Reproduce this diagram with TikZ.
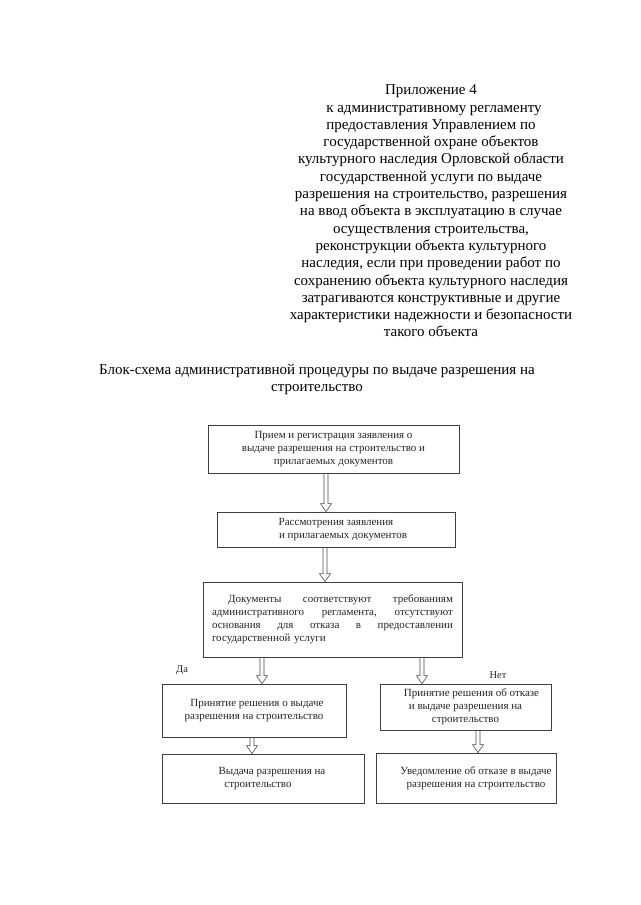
\documentclass[tikz,border=0pt]{standalone}
\usepackage{fontspec}
\setmainfont{Liberation Serif}
\usetikzlibrary{calc}
\tikzset{
  box/.style={draw=black!75, line width=0.7pt, rectangle, align=center, inner sep=0pt,
    text=black!85, font=\fontsize{11}{13}\selectfont},
  harrowline/.style={draw=black!70, line width=0.6pt, line join=miter},
  headtext/.style={align=center, inner sep=0pt, font=\fontsize{15}{17.3}\selectfont},
  lbl/.style={inner sep=0pt, text=black!85, font=\fontsize{10.5}{12}\selectfont}
}
\newcommand\hollowarrow[3]{%
  \path[harrowline] let \p1=(#1), \p2=(#2) in
    (#3pt-2pt,\y1) -- (#3pt-2pt,\y2+8pt) -- (#3pt-5.5pt,\y2+8pt) -- (#3pt,\y2)
    -- (#3pt+5.5pt,\y2+8pt) -- (#3pt+2pt,\y2+8pt) -- (#3pt+2pt,\y1);}
\begin{document}
\begin{tikzpicture}[x=1pt,y=-1pt]
\useasboundingbox[fill=white] (0,0) rectangle (640,905);

\node[headtext] (hdr) at (431,211) {Приложение 4\\
\hspace*{6pt}к административному регламенту\\
предоставления Управлением по\\
государственной охране объектов\\
культурного наследия Орловской области\\
государственной услуги по выдаче\\
разрешения на строительство, разрешения\\
на ввод объекта в эксплуатацию в случае\\
осуществления строительства,\\
реконструкции объекта культурного\\
наследия, если при проведении работ по\\
сохранению объекта культурного наследия\\
затрагиваются конструктивные и другие\\
характеристики надежности и безопасности\\
такого объекта};

\node[headtext] (title) at (317,379.5) {Блок-схема административной процедуры по выдаче разрешения на\\
строительство};

\node[box, minimum width=251pt, minimum height=48pt] (b1) at (333.5,449)
  {Прием и регистрация заявления о\\ выдаче разрешения на строительство и\\ прилагаемых документов};
\node[box, minimum width=238pt, minimum height=35pt] (b2) at (336,529.5)
  {Рассмотрения заявления\\ \hspace*{14pt}и прилагаемых документов};
\node[box, minimum width=259pt, minimum height=75pt, text width=241pt, align=left] (b3) at (332.5,619.5)
  {\hspace*{16pt}Документы\hfill соответствуют\hfill требованиям\\
   административного\hfill регламента,\hfill отсутствуют\\
   основания\hfill для\hfill отказа\hfill в\hfill предоставлении\\
   государственной услуги};
\node[box, minimum width=184pt, minimum height=53pt] (b4) at (254,710.5)
  {\hspace*{6pt}Принятие решения о выдаче\\ разрешения на строительство};
\node[box, minimum width=171pt, minimum height=46pt] (b5) at (465.5,707)
  {\hspace*{12pt}Принятие решения об отказе\\ и выдаче разрешения на\\ строительство};
\node[box, minimum width=202pt, minimum height=49pt] (b6) at (263,778.5)
  {\hspace*{18pt}Выдача разрешения на\\ строительство\hspace*{10pt}};
\node[box, minimum width=180pt, minimum height=50pt] (b7) at (466,778)
  {\hspace*{20pt}Уведомление об отказе в выдаче\\ \hspace*{20pt}разрешения на строительство};

\node[lbl] (yes) at (182,670) {Да};
\node[lbl] (no) at (498,675) {Нет};

\hollowarrow{b1.south}{b2.north}{326}
\hollowarrow{b2.south}{b3.north}{325}
\hollowarrow{b3.south}{b4.north}{262}
\hollowarrow{b3.south}{b5.north}{422}
\hollowarrow{b4.south}{b6.north}{252}
\hollowarrow{b5.south}{b7.north}{478}
\end{tikzpicture}
\end{document}
